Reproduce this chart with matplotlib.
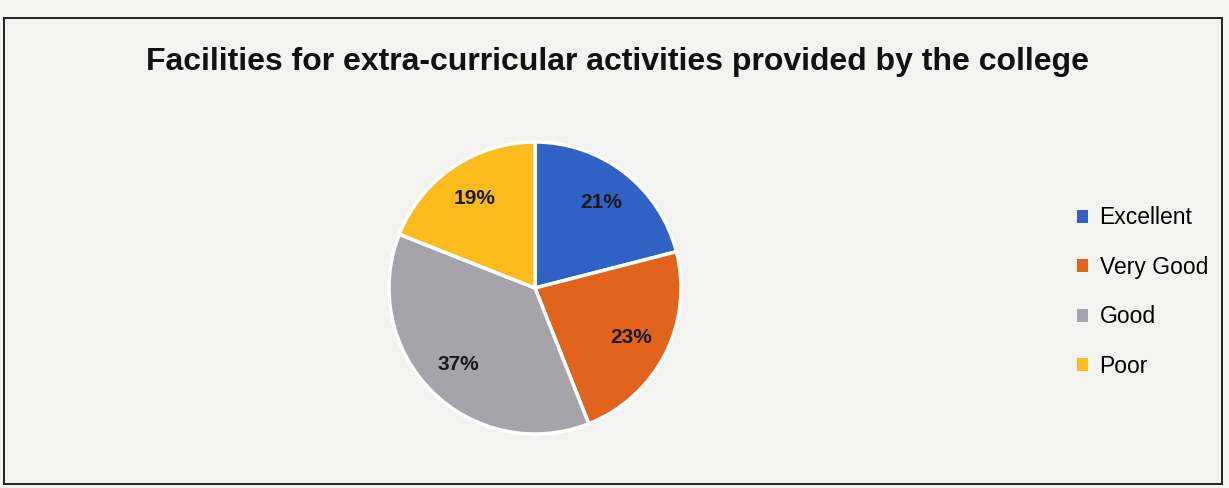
import matplotlib.pyplot as plt
from matplotlib.patches import Rectangle

labels = ['Excellent', 'Very Good', 'Good', 'Poor']
shares = [21, 23, 37, 19]
colors = ['#2f62c4', '#e2641c', '#a6a4ab', '#fdbb1c']

plt.rcParams['font.family'] = ['Liberation Sans', 'DejaVu Sans']

fig = plt.figure(figsize=(12.29, 4.88), dpi=100)
fig.patch.set_facecolor('#f3f3f1')

# chart frame
fig.patches.append(Rectangle((4 / 1229, 4 / 488), 1218 / 1229, 466 / 488, transform=fig.transFigure,
                             fill=False, edgecolor='#222222', linewidth=1.4))

fig.text(618 / 1229, 1 - 62 / 488, 'Facilities for extra-curricular activities provided by the college',
         ha='center', va='center', fontsize=23, fontweight='bold', color='#111111')

ax = fig.add_axes([(535 - 146) / 1229, (488 - 288 - 146) / 488, 292 / 1229, 292 / 488])
wedges, _, autotexts = ax.pie(shares, colors=colors, startangle=90, counterclock=False,
                              autopct='%1.0f%%', pctdistance=0.74,
                              wedgeprops=dict(edgecolor='white', linewidth=2.5),
                              textprops=dict(fontsize=15, fontweight='bold', color='#1a1a1a'))
ax.set_xlim(-1.0, 1.0)
ax.set_ylim(-1.0, 1.0)
ax.set_aspect('equal')

leg = fig.legend(wedges, labels, loc='center left', bbox_to_anchor=(1056 / 1229, 1 - 292 / 488),
                 frameon=False, fontsize=16.5, handlelength=0.5, handleheight=0.5,
                 handletextpad=0.5, labelspacing=1.15)
for h in leg.legend_handles:
    h.set_edgecolor('none')

fig.savefig('out.png', dpi=100, facecolor=fig.get_facecolor())
